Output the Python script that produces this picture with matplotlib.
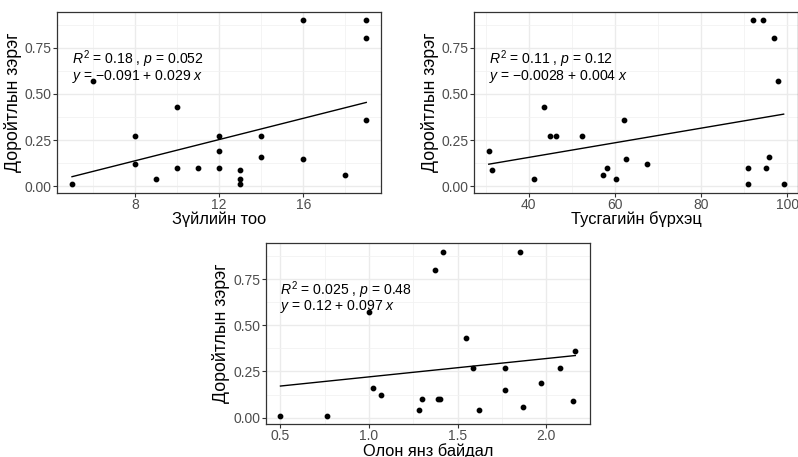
import numpy as np
import matplotlib
matplotlib.use("Agg")
import matplotlib.pyplot as plt
from matplotlib.ticker import FixedLocator

plt.rcParams["font.family"] = ["Liberation Sans", "DejaVu Sans"]
plt.rcParams["mathtext.fontset"] = "custom"
plt.rcParams["mathtext.rm"] = "Liberation Sans"
plt.rcParams["mathtext.it"] = "Liberation Sans:italic"

# shared y label
y_label = "Доройтлын зэрэг"

# panel 1: species count
species_x = [5, 6, 8, 8, 9, 10, 10, 11, 12, 12, 12, 13, 13, 13, 14, 14, 16, 16, 18, 19, 19, 19]
species_y = [0.01, 0.57, 0.27, 0.12, 0.04, 0.43, 0.10, 0.10, 0.27, 0.19, 0.10, 0.09, 0.04, 0.01,
             0.27, 0.16, 0.90, 0.15, 0.06, 0.90, 0.80, 0.36]

# panel 2: cover
cover_x = [30.7, 31.4, 41.1, 43.6, 44.9, 46.3, 52.3, 57.3, 58.1, 60.3, 62.0, 62.5, 67.4,
           91.0, 91.0, 92.0, 94.4, 95.2, 95.8, 96.9, 98.0, 99.2]
cover_y = [0.19, 0.09, 0.04, 0.43, 0.27, 0.27, 0.27, 0.06, 0.10, 0.04, 0.36, 0.15, 0.12,
           0.10, 0.01, 0.90, 0.90, 0.10, 0.16, 0.80, 0.57, 0.01]

# panel 3: diversity
div_x = [0.50, 0.76, 1.00, 1.02, 1.07, 1.28, 1.30, 1.39, 1.40, 1.42, 1.37, 1.55, 1.59, 1.62,
         1.77, 1.77, 1.85, 1.87, 1.97, 2.08, 2.15, 2.165]
div_y = [0.01, 0.01, 0.57, 0.16, 0.12, 0.04, 0.10, 0.10, 0.10, 0.90, 0.80, 0.43, 0.27, 0.04,
         0.27, 0.15, 0.90, 0.06, 0.19, 0.27, 0.09, 0.36]

panels = [
    dict(x=species_x, y=species_y, xlabel="Зүйлийн тоо",
         stat=r"$R^2$ = 0.18 , $p$ = 0.052", eq=r"$y$ = $-$0.091 + 0.029 $x$",
         major=[8, 12, 16], minor=[6, 10, 14, 18], fmt="{:g}",
         rect=[0.0718, 0.5783, 0.4056, 0.396], ty=(0.737, 0.641)),
    dict(x=cover_x, y=cover_y, xlabel="Тусгагийн бүрхэц",
         stat=r"$R^2$ = 0.11 , $p$ = 0.12", eq=r"$y$ = $-$0.0028 + 0.004 $x$",
         major=[40, 60, 80, 100], minor=[30, 50, 70, 90], fmt="{:g}",
         rect=[0.594, 0.5783, 0.4065, 0.396], ty=(0.737, 0.641)),
    dict(x=div_x, y=div_y, xlabel="Олон янз байдал",
         stat=r"$R^2$ = 0.025 , $p$ = 0.48", eq=r"$y$ = 0.12 + 0.097 $x$",
         major=[0.5, 1.0, 1.5, 2.0], minor=[0.75, 1.25, 1.75], fmt="{:.1f}",
         rect=[0.333, 0.0722, 0.4064, 0.3954], ty=(0.741, 0.649)),
]

y_major = [0.0, 0.25, 0.5, 0.75]
y_minor = [0.125, 0.375, 0.625, 0.875]

fig = plt.figure(figsize=(7.98, 4.57), dpi=100)

for p in panels:
    ax = fig.add_axes(p["rect"])
    x = np.array(p["x"])
    y = np.array(p["y"])

    # ggplot style expansion of 5%
    xr = x.max() - x.min()
    yr = y.max() - y.min()
    ax.set_xlim(x.min() - 0.05 * xr, x.max() + 0.05 * xr)
    ax.set_ylim(y.min() - 0.05 * yr, y.max() + 0.05 * yr)

    ax.xaxis.set_major_locator(FixedLocator(p["major"]))
    ax.xaxis.set_minor_locator(FixedLocator(p["minor"]))
    ax.yaxis.set_major_locator(FixedLocator(y_major))
    ax.yaxis.set_minor_locator(FixedLocator(y_minor))
    ax.set_xticklabels([p["fmt"].format(v) for v in p["major"]])
    ax.set_yticklabels(["0.00", "0.25", "0.50", "0.75"])

    ax.grid(which="major", color="#EBEBEB", linewidth=1.0)
    ax.grid(which="minor", color="#F2F2F2", linewidth=0.6)
    ax.set_axisbelow(True)
    for s in ax.spines.values():
        s.set_color("#333333")
        s.set_linewidth(0.9)
    ax.tick_params(which="major", length=3, width=0.8, color="#333333",
                   labelsize=10, labelcolor="#4D4D4D", pad=1)
    ax.tick_params(axis="x", which="major", pad=0.5)
    ax.tick_params(which="minor", length=0)

    # linear fit
    slope, icpt = np.polyfit(x, y, 1)
    xs = np.array([x.min(), x.max()])
    ax.plot(xs, icpt + slope * xs, color="black", linewidth=1.0)
    ax.scatter(x, y, s=10, color="black", zorder=3)

    ax.text(0.045, p["ty"][0], p["stat"], transform=ax.transAxes, fontsize=10.1,
            va="center", ha="left")
    ax.text(0.045, p["ty"][1], p["eq"], transform=ax.transAxes, fontsize=10.1,
            va="center", ha="left")

    ax.set_xlabel(p["xlabel"], fontsize=11.8, labelpad=0)
    ax.set_ylabel(y_label, fontsize=12.8, labelpad=2)

fig.savefig("out.png", dpi=100)
